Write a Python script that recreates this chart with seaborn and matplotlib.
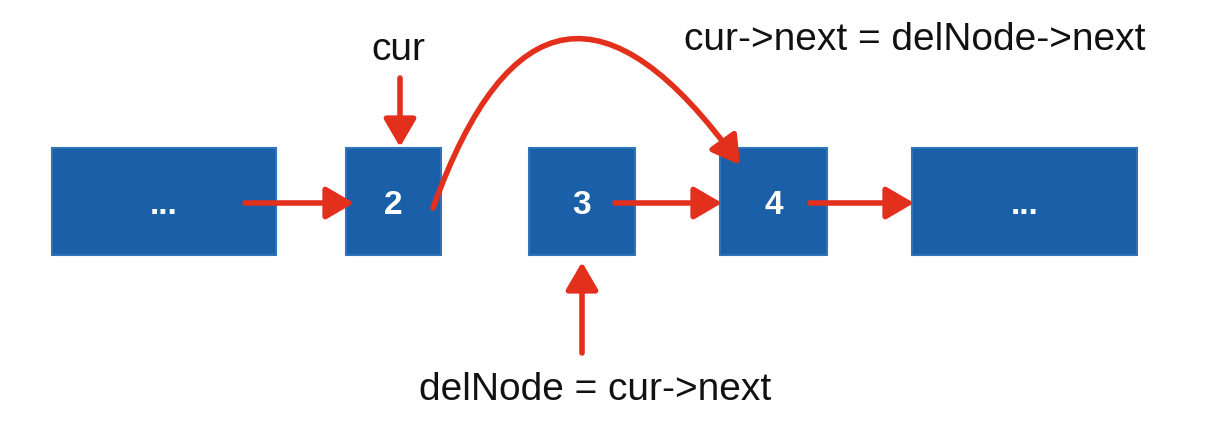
import matplotlib
matplotlib.use("Agg")
import matplotlib.pyplot as plt
import seaborn as sns
from matplotlib.patches import Rectangle, FancyArrowPatch

sns.set_theme(style="white")
plt.rcParams['font.family'] = ['Liberation Sans', 'DejaVu Sans']

labels = ["...", "2", "3", "4", "..."]
box_left = [52, 346, 529, 720, 912]
box_right = [276, 441, 635, 827, 1137]
box_top, box_bot = 148, 255

fig = plt.figure(figsize=(12.05, 4.29), dpi=100)
ax = fig.add_axes([0, 0, 1, 1])
ax.set_xlim(0, 1205)
ax.set_ylim(429, 0)
ax.axis("off")

for l, r, t in zip(box_left, box_right, labels):
    ax.add_patch(Rectangle((l, box_top), r - l, box_bot - box_top,
                           facecolor="#1b5fa9", edgecolor="#2f73b8", lw=1.5))
    ax.text((l + r) / 2, 205, t, color="white", fontsize=24, fontweight="bold",
            ha="center", va="center")

red = "#e2301c"
def arrow(p, q, rad=0.0):
    ax.add_patch(FancyArrowPatch(p, q, arrowstyle="-|>,head_length=12,head_width=7",
                                 color=red, lw=4, connectionstyle=f"arc3,rad={rad}",
                                 mutation_scale=1.4, shrinkA=0, shrinkB=0))

arrow((245, 203), (354, 203))
arrow((400, 78), (400, 147))
arrow((615, 203), (722, 203))
arrow((810, 203), (914, 203))
arrow((582, 353), (582, 262))
arrow((433, 208), (740, 165), rad=-0.95)

ax.text(398, 50, "cur", fontsize=28, ha="center", va="center", color="#111")
ax.text(915, 40, "cur->next = delNode->next", fontsize=28, ha="center", va="center", color="#111")
ax.text(595, 390, "delNode = cur->next", fontsize=28, ha="center", va="center", color="#111")

fig.savefig("out.png", dpi=100, facecolor="white")
